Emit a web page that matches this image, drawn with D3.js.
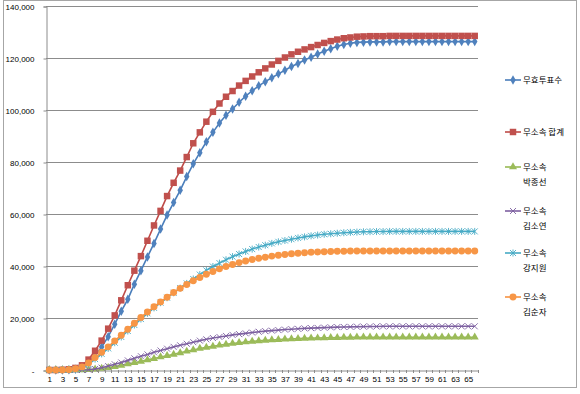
<!DOCTYPE html>
<html>
<head>
<meta charset="utf-8">
<script src="https://cdn.jsdelivr.net/npm/d3@7"></script>
<style>
  html, body { margin: 0; padding: 0; background: #fff; }
  svg { display: block; }
  .tick text { font-family: "Liberation Sans", Arial, sans-serif; }
</style>
</head>
<body>
<div id="chart"></div>
<script>
// categories 1..66
const categories = d3.range(1, 67);

const invalidVotes = [0, 0, 0, 100, 300, 900, 2700, 5400, 8800, 12800,
  17600, 22600, 27200, 33000, 38200, 43500, 48700, 54200, 59600, 64400,
  69100, 74400, 79300, 83600, 87800, 91400, 95000, 98000, 100400, 103000,
  105300, 107400, 109300, 110900, 112400, 113900, 115300, 116700, 117900, 119200,
  120300, 121500, 122600, 123600, 124500, 125200, 125700, 126000, 126100, 126200,
  126200, 126200, 126300, 126300, 126300, 126300, 126300, 126300, 126300, 126300,
  126300, 126300, 126300, 126300, 126300, 126300];

const indepTotal = [0, 0, 100, 300, 800, 1800, 4000, 7400, 11300, 15900,
  21000, 26800, 32600, 38200, 43800, 49700, 55600, 61200, 66900, 72000,
  76700, 81900, 87200, 91400, 95500, 99300, 102500, 105100, 107300, 109400,
  111200, 112900, 114500, 116000, 117500, 118900, 120200, 121400, 122400, 123300,
  124200, 125000, 125800, 126500, 127100, 127600, 127900, 128200, 128300, 128400,
  128400, 128400, 128500, 128500, 128500, 128500, 128500, 128500, 128500, 128500,
  128500, 128500, 128500, 128500, 128500, 128500];

const parkJS = [0, 0, 0, 0, 0, 0, 100, 300, 600, 900,
  1300, 1800, 2300, 2800, 3300, 3900, 4400, 5000, 5500, 6000,
  6600, 7200, 7700, 8300, 8700, 9100, 9500, 9850, 10200, 10500,
  10750, 11000, 11200, 11400, 11550, 11700, 11850, 11950, 12050, 12150,
  12250, 12300, 12350, 12400, 12450, 12500, 12550, 12600, 12600, 12600,
  12600, 12600, 12600, 12600, 12600, 12600, 12600, 12600, 12600, 12600,
  12600, 12600, 12600, 12600, 12600, 12600];

const kimSY = [0, 0, 0, 0, 0, 0, 100, 400, 900, 1500,
  2200, 2900, 3700, 4500, 5300, 6000, 6800, 7500, 8200, 8900,
  9500, 10100, 10700, 11300, 11800, 12300, 12700, 13100, 13500, 13800,
  14100, 14400, 14700, 14950, 15150, 15350, 15550, 15700, 15850, 16000,
  16100, 16200, 16300, 16400, 16500, 16550, 16600, 16650, 16700, 16750,
  16750, 16800, 16800, 16800, 16800, 16800, 16800, 16800, 16800, 16800,
  16800, 16800, 16800, 16800, 16800, 16800];

const kangJW = [0, 0, 0, 0, 300, 900, 2200, 4200, 6200, 8300,
  10500, 12700, 15000, 17300, 19600, 21800, 23900, 25900, 27800, 29700,
  31500, 33300, 35000, 36700, 38300, 39800, 41100, 42400, 43600, 44600,
  45600, 46500, 47300, 48000, 48700, 49300, 49800, 50300, 50800, 51200,
  51600, 51900, 52200, 52400, 52600, 52800, 52950, 53050, 53150, 53200,
  53250, 53250, 53300, 53300, 53300, 53300, 53300, 53300, 53300, 53300,
  53300, 53300, 53300, 53300, 53300, 53300];

const kimSJ = [0, 0, 0, 100, 500, 1200, 2700, 4800, 6800, 8900,
  11200, 13400, 15700, 18000, 20200, 22300, 24300, 26200, 28000, 29800,
  31400, 32900, 34300, 35600, 36800, 37900, 38900, 39800, 40600, 41300,
  41900, 42500, 43000, 43400, 43800, 44100, 44400, 44700, 44900, 45100,
  45250, 45400, 45500, 45600, 45650, 45700, 45750, 45800, 45800, 45800,
  45800, 45800, 45800, 45800, 45800, 45800, 45800, 45800, 45800, 45800,
  45800, 45800, 45800, 45800, 45800, 45800];

const seriesNames = ["무효투표수", "무소속 합계", "무소속\n박종선", "무소속\n김소연", "무소속\n강지원", "무소속\n김순자"];
const yTicks = [0, 20000, 40000, 60000, 80000, 100000, 120000, 140000];

const W = 580, H = 394;
const plot = {left: 46, right: 478, top: 6, bottom: 370};

const svg = d3.select("#chart").append("svg")
    .attr("width", W)
    .attr("height", H);

// chart area frame
svg.append("rect")
    .attr("x", 3.5).attr("y", 0.5)
    .attr("width", 573).attr("height", 387)
    .attr("fill", "#fff")
    .attr("stroke", "#a6a6a6");

const x = d3.scaleBand()
    .domain(categories)
    .range([plot.left, plot.right])
    .padding(0);

const y = d3.scaleLinear()
    .domain([0, 140000])
    .range([plot.bottom, plot.top]);

// gridlines
svg.append("g")
    .selectAll("line")
    .data(yTicks.slice(1))
    .enter().append("line")
    .attr("x1", plot.left).attr("x2", plot.right)
    .attr("y1", d => Math.round(y(d)) + 0.5)
    .attr("y2", d => Math.round(y(d)) + 0.5)
    .style("stroke", "#8c8c8c")
    .style("stroke-width", 1);

// y axis
const yAxis = svg.append("g")
    .attr("transform", `translate(${plot.left + 0.5},0.5)`)
    .call(d3.axisLeft(y)
        .tickValues(yTicks)
        .tickSize(3)
        .tickPadding(9)
        .tickFormat(d => d === 0 ? "-" : d3.format(",")(d)));
yAxis.select(".domain").attr("stroke", "#8c8c8c");
yAxis.selectAll(".tick line").attr("stroke", "#8c8c8c");
yAxis.selectAll(".tick text").style("font-size", "8px").attr("fill", "#000");

// x axis
const xAxis = svg.append("g")
    .attr("transform", `translate(0.5,${plot.bottom + 0.5})`)
    .call(d3.axisBottom(x)
        .tickSize(0)
        .tickPadding(6)
        .tickFormat(d => d % 2 === 1 ? d : ""));
xAxis.select(".domain").attr("stroke", "#8c8c8c");
xAxis.selectAll(".tick text").style("font-size", "8px").attr("fill", "#000");

// boundary tick marks
svg.append("g")
    .selectAll("line")
    .data(categories.concat([67]))
    .enter().append("line")
    .attr("x1", d => Math.round(d === 67 ? plot.right : x(d)) + 0.5)
    .attr("x2", d => Math.round(d === 67 ? plot.right : x(d)) + 0.5)
    .attr("y1", plot.bottom)
    .attr("y2", plot.bottom + 3)
    .style("stroke", "#8c8c8c");

// series
const xPath = "M-3,-3L3,3M-3,3L3,-3";
const starPath = "M-3,-3L3,3M-3,3L3,-3M0,-3.5L0,3.5";

const series = [
  {name: seriesNames[0], values: invalidVotes, line: "#4A7EBB", fill: "#4F81BD", sym: d3.symbolDiamond, size: 26},
  {name: seriesNames[1], values: indepTotal, line: "#BE4B48", fill: "#C0504D", sym: d3.symbolSquare, size: 42},
  {name: seriesNames[2], values: parkJS, line: "#98B954", fill: "#9BBB59", sym: d3.symbolTriangle, size: 28},
  {name: seriesNames[3], values: kimSY, line: "#7D60A0", fill: "none", path: xPath},
  {name: seriesNames[4], values: kangJW, line: "#46AAC5", fill: "none", path: starPath},
  {name: seriesNames[5], values: kimSJ, line: "#F69240", fill: "#F79646", sym: d3.symbolCircle, size: 38}
];

const cx = d => x(d) + x.bandwidth() / 2;

const lineGen = d3.line()
    .x((d, i) => cx(categories[i]))
    .y(d => y(d));

function markerPath (s) {
    return s.path ? s.path : d3.symbol().type(s.sym).size(s.size)();
}

series.forEach(s => {
    const g = svg.append("g");
    g.append("path")
        .datum(s.values)
        .attr("d", lineGen)
        .attr("fill", "none")
        .attr("stroke", s.line)
        .attr("stroke-width", 1.6);

    g.selectAll(".mk")
        .data(s.values)
        .enter().append("path")
        .attr("class", "mk")
        .attr("transform", (d, i) => `translate(${cx(categories[i])},${y(d)})`)
        .attr("d", markerPath(s))
        .attr("fill", s.fill)
        .attr("stroke", s.fill === "none" ? s.line : "none")
        .attr("stroke-width", 0.9);
});

// legend
const legendY = [80, 132, 167, 211, 253, 297];
const legend = svg.append("g");
series.forEach((s, k) => {
    const gy = legendY[k];
    const g = legend.append("g").attr("transform", `translate(0,${gy})`);
    g.append("line")
        .attr("x1", 505).attr("x2", 521)
        .attr("y1", 0).attr("y2", 0)
        .attr("stroke", s.line)
        .attr("stroke-width", 1.6);
    g.append("path")
        .attr("transform", "translate(513,0)")
        .attr("d", markerPath(s))
        .attr("fill", s.fill)
        .attr("stroke", s.fill === "none" ? s.line : "none")
        .attr("stroke-width", 0.9);
    s.name.split("\n").forEach((t, j) => {
        g.append("text")
            .attr("x", 523)
            .attr("y", j * 15)
            .attr("dy", "0.35em")
            .style("font-family", "'Noto Sans CJK KR', sans-serif")
            .style("font-size", "8.5px")
            .attr("fill", "#000")
            .text(t);
    });
});
</script>
</body>
</html>
